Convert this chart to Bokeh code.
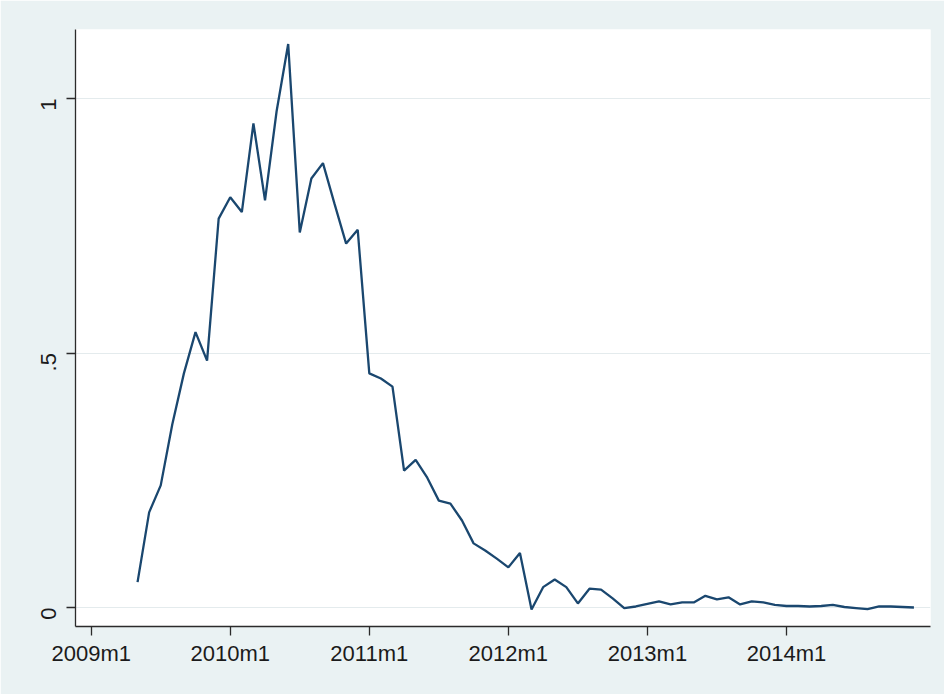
import math

from bokeh.embed import file_html
from bokeh.models import ColumnDataSource, FixedTicker, Range1d
from bokeh.plotting import figure
from bokeh.resources import INLINE

# Monthly series, 2009m5 .. 2014m12
first_period = "2009m5"
series = [
    0.050, 0.187, 0.240, 0.360, 0.460, 0.541, 0.485, 0.764,
    0.806, 0.777, 0.951, 0.800, 0.975, 1.107, 0.737, 0.843, 0.873, 0.793, 0.715, 0.742,
    0.460, 0.450, 0.434, 0.269, 0.290, 0.255, 0.210, 0.204, 0.171, 0.126, 0.112, 0.096,
    0.079, 0.107, -0.004, 0.040, 0.055, 0.040, 0.008, 0.037, 0.035, 0.018, -0.001, 0.002,
    0.007, 0.012, 0.006, 0.010, 0.010, 0.023, 0.016, 0.020, 0.006, 0.012, 0.010, 0.005,
    0.003, 0.003, 0.002, 0.003, 0.005, 0.001, -0.001, -0.003, 0.002, 0.002, 0.001, 0.000,
]
x_tick_labels = ["2009m1", "2010m1", "2011m1", "2012m1", "2013m1", "2014m1"]
y_ticks = [0, 0.5, 1]
y_tick_labels = ["0", ".5", "1"]

BASE_YEAR = 2009


def month_index(period):
    """Months elapsed since 2009m1 for a Stata-style 'YYYYmM' label."""
    year, month = period.split("m")
    return (int(year) - BASE_YEAR) * 12 + int(month) - 1


start = month_index(first_period)
months = [start + i for i in range(len(series))]
source = ColumnDataSource(data=dict(t=months, v=series))

x_tick_pos = [month_index(lbl) for lbl in x_tick_labels]

BG = "#eaf2f3"
INK = "#1b1b1b"
LINE = "#1a476f"

p = figure(
    width=944,
    height=694,
    frame_width=855,
    frame_height=597,
    min_border_left=75,
    min_border_right=14,
    min_border_top=29,
    min_border_bottom=68,
    x_range=Range1d(-1.355, 72.43),
    y_range=Range1d(-0.0373, 1.1356),
    output_backend="svg",
    toolbar_location=None,
    background_fill_color="white",
    border_fill_color=BG,
    outline_line_color=None,
)

p.line("t", "v", source=source, line_color=LINE, line_width=2.3)

# horizontal grid at the labelled y values only
p.xgrid.grid_line_color = None
p.ygrid.grid_line_color = "#e4ebed"
p.ygrid.grid_line_width = 1.2

for ax in (p.xaxis[0], p.yaxis[0]):
    ax.axis_line_color = "#2b2b2b"
    ax.axis_line_width = 1.3
    ax.major_tick_line_color = "#2b2b2b"
    ax.major_tick_line_width = 1.3
    ax.major_tick_out = 9
    ax.major_tick_in = 0
    ax.minor_tick_line_color = None
    ax.major_label_text_font = "Liberation Sans"
    ax.major_label_text_color = INK
    ax.major_label_text_font_size = "22px"

p.xaxis.ticker = FixedTicker(ticks=x_tick_pos)
p.xaxis.major_label_overrides = {pos: lbl for pos, lbl in zip(x_tick_pos, x_tick_labels)}
p.xaxis.major_label_standoff = 5

p.yaxis.ticker = FixedTicker(ticks=y_ticks)
p.yaxis.major_label_overrides = {t: lbl for t, lbl in zip(y_ticks, y_tick_labels)}
p.yaxis.major_label_orientation = math.pi / 2
p.yaxis.major_label_standoff = 18

open("out.html", "w").write(file_html(p, INLINE))
